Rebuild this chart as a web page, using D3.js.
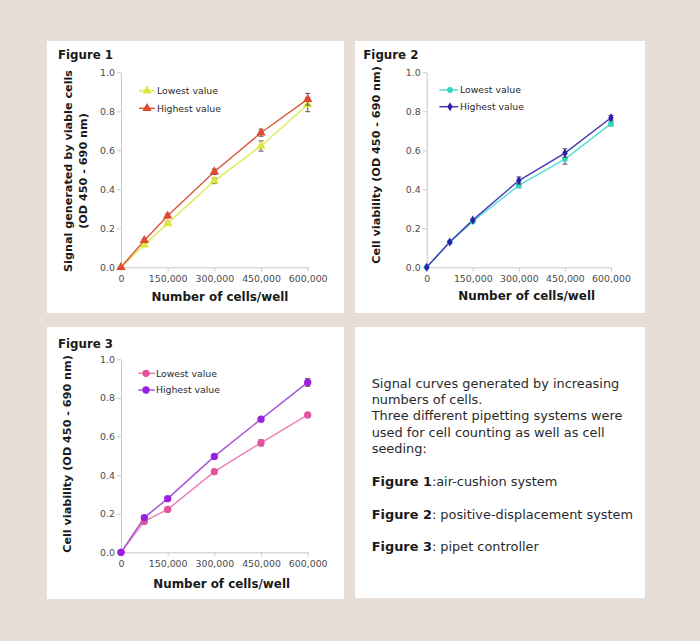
<!DOCTYPE html>
<html><head><meta charset="utf-8">
<script src="https://cdn.jsdelivr.net/npm/d3@7"></script>
<style>html,body{margin:0;padding:0;background:#e8ded8;} svg{display:block}</style>
</head><body><svg id="c" width="700" height="641"></svg>
<script>
// ---------------- data ----------------
const cellsPerWell = [0, 75000, 150000, 300000, 450000, 600000];
const xTickValues = [0, 150000, 300000, 450000, 600000];
const yTickValues = [0, 0.2, 0.4, 0.6, 0.8, 1.0];
const seriesNames = ["Lowest value", "Highest value"];
const figureNames = ["Figure 1", "Figure 2", "Figure 3"];
const xAxisTitle = "Number of cells/well";

const fig1Lowest     = [0, 0.115, 0.225, 0.443, 0.622, 0.834];
const fig1LowestErr  = [0, 0.008, 0.008, 0.014, 0.026, 0.036];
const fig1Highest    = [0, 0.138, 0.264, 0.490, 0.690, 0.862];
const fig1HighestErr = [0, 0.008, 0.010, 0.014, 0.018, 0.030];

const fig2Lowest     = [0, 0.128, 0.235, 0.420, 0.555, 0.737];
const fig2LowestErr  = [0, 0.004, 0.006, 0.012, 0.026, 0.012];
const fig2Highest    = [0, 0.130, 0.242, 0.445, 0.586, 0.767];
const fig2HighestErr = [0, 0.004, 0.006, 0.018, 0.022, 0.012];

const fig3Lowest     = [0, 0.160, 0.222, 0.418, 0.567, 0.712];
const fig3LowestErr  = [0, 0.008, 0.008, 0.008, 0.016, 0.008];
const fig3Highest    = [0, 0.180, 0.278, 0.497, 0.690, 0.880];
const fig3HighestErr = [0, 0.008, 0.008, 0.008, 0.008, 0.020];

const yTitles = [
  ["Signal generated by viable cells", "(OD 450 - 690 nm)"],
  ["Cell viability (OD 450 - 690 nm)"],
  ["Cell viability (OD 450 - 690 nm)"]
];

const descLines = [
  "Signal curves generated by increasing",
  "numbers of cells.",
  "Three different pipetting systems were",
  "used for cell counting as well as cell",
  "seeding:"
];
const descFigures = [
  ["Figure 1", ":air-cushion system"],
  ["Figure 2", ": positive-displacement system"],
  ["Figure 3", ": pipet controller"]
];

// ---------------- layout / style ----------------
const FONT = "'DejaVu Sans', Verdana, sans-serif";
const svg = d3.select("#c");
svg.append("rect").attr("width", 700).attr("height", 641).attr("fill", "#e8ded8");

const charts = [
  { panel: [47, 41, 297, 272], x0: 121, x1: 307.7, yT: 72.3, yB: 267.3,
    label: [58, 58.5], xTitle: [220, 301], yTitleX: [68, 82.7], yTitleY: 171,
    leg: { x0: 139, x1: 155, xm: 147, xt: 157, ys: [90.7, 108.3] },
    series: [
      { values: fig1Lowest, errs: fig1LowestErr, line: "#e2ec62", mark: "#dde63c", sym: d3.symbolTriangle, size: 38 },
      { values: fig1Highest, errs: fig1HighestErr, line: "#da5a40", mark: "#e04a30", sym: d3.symbolTriangle, size: 38 }
    ] },
  { panel: [355, 41, 290, 272], x0: 426.7, x1: 611, yT: 72.3, yB: 267.3,
    label: [363.3, 58.5], xTitle: [526.7, 300], yTitleX: [375.7], yTitleY: 165,
    leg: { x0: 439.3, x1: 458.3, xm: 450, xt: 460, ys: [90, 106.7] },
    series: [
      { values: fig2Lowest, errs: fig2LowestErr, line: "#55e0d2", mark: "#2fd6c2", sym: d3.symbolCircle, size: 26 },
      { values: fig2Highest, errs: fig2HighestErr, line: "#4a3cb4", mark: "#2a1cae", sym: d3.symbolDiamond, size: 24 }
    ] },
  { panel: [47, 327, 297, 272], x0: 121, x1: 307.7, yT: 359.3, yB: 552.3,
    label: [58, 347.7], xTitle: [221.7, 588.3], yTitleX: [66.7], yTitleY: 454,
    leg: { x0: 138.3, x1: 155, xm: 146, xt: 156, ys: [373.3, 390] },
    series: [
      { values: fig3Lowest, errs: fig3LowestErr, line: "#e884bb", mark: "#e0559c", sym: d3.symbolCircle, size: 42 },
      { values: fig3Highest, errs: fig3HighestErr, line: "#a65ad6", mark: "#9a20de", sym: d3.symbolCircle, size: 42 }
    ] }
];

function drawChart(cfg, idx) {
  const g = svg.append("g");
  g.append("rect").attr("x", cfg.panel[0]).attr("y", cfg.panel[1])
    .attr("width", cfg.panel[2]).attr("height", cfg.panel[3]).attr("fill", "#ffffff");

  const x = d3.scaleLinear().domain([0, 600000]).range([cfg.x0, cfg.x1]);
  const y = d3.scaleLinear().domain([0, 1]).range([cfg.yB, cfg.yT]);

  const yAxis = d3.axisLeft(y).tickValues(yTickValues).tickFormat(d3.format(".1f"))
    .tickSizeInner(4).tickSizeOuter(0).tickPadding(2);
  const xAxis = d3.axisBottom(x).tickValues(xTickValues).tickFormat(d3.format(","))
    .tickSizeInner(4).tickSizeOuter(0).tickPadding(4);

  const ya = g.append("g").attr("transform", `translate(${cfg.x0},0)`).call(yAxis);
  const xa = g.append("g").attr("transform", `translate(0,${cfg.yB})`).call(xAxis);
  [ya, xa].forEach(a => {
    a.select(".domain").attr("stroke", "#c9c9c9");
    a.selectAll(".tick line").attr("stroke", "#c9c9c9");
    a.selectAll(".tick text").attr("fill", "#4a4a4a").style("font-family", FONT).style("font-size", "9.4px");
  });

  g.append("text").attr("x", cfg.label[0]).attr("y", cfg.label[1]).text(figureNames[idx])
    .style("font-family", FONT).style("font-size", "11.8px").style("font-weight", "bold").attr("fill", "#1a1a1a");
  g.append("text").attr("x", cfg.xTitle[0]).attr("y", cfg.xTitle[1]).attr("text-anchor", "middle")
    .text(xAxisTitle).style("font-family", FONT).style("font-size", "11.9px").style("font-weight", "bold").attr("fill", "#1a1a1a");
  yTitles[idx].forEach((t, k) => {
    g.append("text").attr("transform", `translate(${cfg.yTitleX[k]},${cfg.yTitleY}) rotate(-90)`)
      .attr("text-anchor", "middle").attr("dy", "0.36em").text(t)
      .style("font-family", FONT).style("font-size", "11.2px").style("font-weight", "bold").attr("fill", "#1a1a1a");
  });

  const line = d3.line().x((d, i) => x(cellsPerWell[i])).y(d => y(d));
  cfg.series.forEach(s => {
    g.append("path").attr("d", line(s.values)).attr("fill", "none").attr("stroke", s.line).attr("stroke-width", 1.5);
  });
  cfg.series.forEach(s => {
    const eg = g.append("g");
    s.values.forEach((v, i) => {
      const e = s.errs[i];
      if (e <= 0) return;
      const cx = x(cellsPerWell[i]);
      eg.append("line").attr("x1", cx).attr("x2", cx).attr("y1", y(v - e)).attr("y2", y(v + e)).attr("stroke", "#555").attr("stroke-width", 1);
      [v - e, v + e].forEach(w => eg.append("line").attr("x1", cx - 2.5).attr("x2", cx + 2.5).attr("y1", y(w)).attr("y2", y(w)).attr("stroke", "#555").attr("stroke-width", 1));
    });
    g.append("g").selectAll("path").data(s.values).join("path")
      .attr("transform", (d, i) => `translate(${x(cellsPerWell[i])},${y(d)})`)
      .attr("d", d3.symbol().type(s.sym).size(s.size)).attr("fill", s.mark);
  });

  cfg.series.forEach((s, k) => {
    const ly = cfg.leg.ys[k];
    g.append("line").attr("x1", cfg.leg.x0).attr("x2", cfg.leg.x1).attr("y1", ly).attr("y2", ly).attr("stroke", s.line).attr("stroke-width", 1.5);
    g.append("path").attr("transform", `translate(${cfg.leg.xm},${ly})`).attr("d", d3.symbol().type(s.sym).size(s.size)).attr("fill", s.mark);
    g.append("text").attr("x", cfg.leg.xt).attr("y", ly).attr("dy", "0.35em").text(seriesNames[k])
      .style("font-family", FONT).style("font-size", "9.3px").attr("fill", "#2a2a2a");
  });
}

charts.forEach(drawChart);

// text panel
const tp = svg.append("g");
tp.append("rect").attr("x", 355).attr("y", 327).attr("width", 290).attr("height", 271).attr("fill", "#ffffff");
descLines.forEach((t, i) => {
  tp.append("text").attr("x", 371.7).attr("y", 388 + i * 16.2).text(t)
    .style("font-family", FONT).style("font-size", "12.9px").attr("fill", "#2a2a2a");
});
descFigures.forEach((f, i) => {
  const t = tp.append("text").attr("x", 371.7).attr("y", 486 + i * 32.5)
    .style("font-family", FONT).style("font-size", "12.9px").attr("fill", "#2a2a2a");
  t.append("tspan").style("font-weight", "bold").attr("fill", "#1a1a1a").text(f[0]);
  t.append("tspan").text(f[1]);
});
</script>
</body></html>
